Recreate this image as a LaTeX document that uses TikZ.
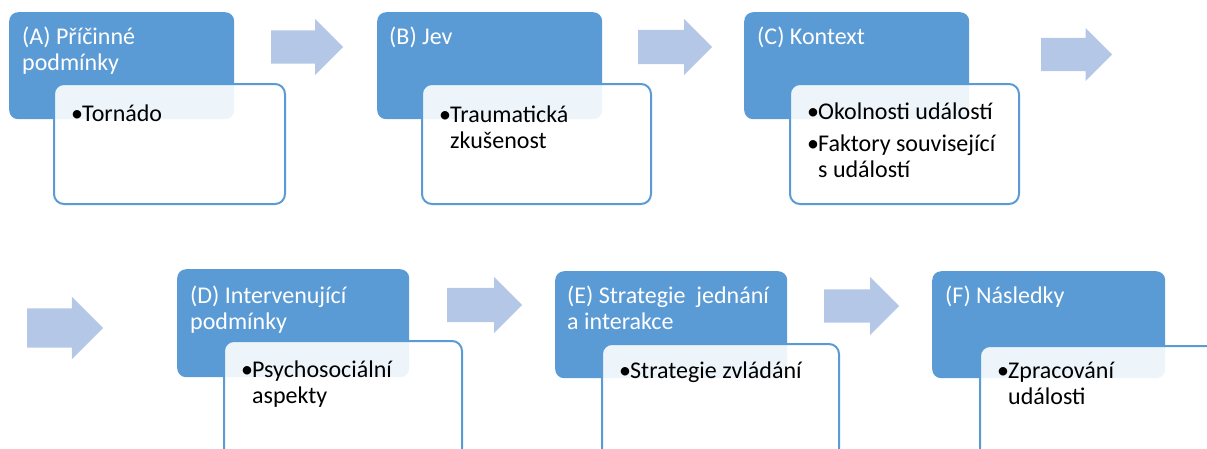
\documentclass[tikz,border=0pt]{standalone}
\usepackage{fontspec}
\setmainfont{Carlito}
\usetikzlibrary{shapes.arrows}
\definecolor{boxblue}{HTML}{5B9BD5}
\definecolor{arrowblue}{HTML}{B4C7E7}
\newcommand{\bul}{\makebox[11pt][l]{•}}
\begin{document}
\begin{tikzpicture}[x=1pt,y=-1pt,
	catbox/.style={fill=boxblue,rounded corners=9pt,inner sep=0pt,anchor=north west},
	detbox/.style={draw=boxblue,line width=2pt,fill=white,fill opacity=0.9,rounded corners=10pt,inner sep=0pt,anchor=north west},
	cattext/.style={text=white,align=left,anchor=base west,inner sep=0pt,font=\fontsize{24}{26.5}\selectfont},
	dettext/.style={text=black,align=left,anchor=base west,inner sep=0pt,font=\fontsize{24}{26}\selectfont},
	flowarrow/.style={single arrow,fill=arrowblue,draw=none,inner xsep=0pt,anchor=tail}]
		\useasboundingbox (0,0) rectangle (1207,448);
		\clip (0,0) rectangle (1207,448);
		\node[catbox,minimum width=225pt,minimum height=107pt] (catA) at (9,12) {};
		\node[detbox,minimum width=231pt,minimum height=120pt] (detA) at (53,83) {};
		\node[catbox,minimum width=225pt,minimum height=107pt] (catB) at (377,12) {};
		\node[detbox,minimum width=229pt,minimum height=120pt] (detB) at (421,83) {};
		\node[catbox,minimum width=225pt,minimum height=107pt] (catC) at (744,12) {};
		\node[detbox,minimum width=229pt,minimum height=120pt] (detC) at (789,83) {};
		\node[catbox,minimum width=232pt,minimum height=108pt] (catD) at (177,269) {};
		\node[detbox,minimum width=238pt,minimum height=120pt] (detD) at (223,340) {};
		\node[catbox,minimum width=232pt,minimum height=107pt] (catE) at (555,271) {};
		\node[detbox,minimum width=237pt,minimum height=120pt] (detE) at (601,343) {};
		\node[catbox,minimum width=233pt,minimum height=107pt] (catF) at (932,271) {};
		\node[detbox,minimum width=238pt,minimum height=120pt] (detF) at (979,345) {};
		\node[flowarrow,minimum height=72pt,inner ysep=16.5pt,single arrow head extend=11.5pt] (arrAB) at (271,47) {};
		\node[flowarrow,minimum height=74pt,inner ysep=17pt,single arrow head extend=11pt] (arrBC) at (638,47) {};
		\node[flowarrow,minimum height=71pt,inner ysep=16.5pt,single arrow head extend=10pt] (arrCD) at (1041,54.5) {};
		\node[flowarrow,minimum height=76pt,inner ysep=19.5pt,single arrow head extend=11.5pt] (arrDin) at (27,328) {};
		\node[flowarrow,minimum height=75pt,inner ysep=17pt,single arrow head extend=11pt] (arrDE) at (447,305) {};
		\node[flowarrow,minimum height=75pt,inner ysep=16.5pt,single arrow head extend=12.5pt] (arrEF) at (824,306) {};
		\node[cattext] (labA) at (22,70.5) {(A) Příčinné\\podmínky};
		\node[cattext] (labB) at (389,44) {(B) Jev};
		\node[cattext] (labC) at (757,44) {(C) Kontext};
		\node[cattext] (labD) at (190,329.5) {(D) Intervenující\\podmínky};
		\node[cattext] (labE) at (567,329.5) {(E) Strategie\ \ jednání\\a interakce};
		\node[cattext] (labF) at (945,303) {(F) Následky};
		\node[dettext] (itmA) at (71,121) {\bul Tornádo};
		\node[dettext] (itmB) at (439,148) {\bul Traumatická\\\hspace*{11pt}zkušenost};
		\node[dettext] (itmC) at (807,177) {\bul Okolnosti událostí\\[6pt]\bul Faktory související\\\hspace*{11pt}s událostí};
		\node[dettext] (itmD) at (241,403) {\bul Psychosociální\\\hspace*{11pt}aspekty};
		\node[dettext] (itmE) at (619,378) {\bul Strategie zvládání};
		\node[dettext] (itmF) at (997,404) {\bul Zpracování\\\hspace*{11pt}události};
\end{tikzpicture}
\end{document}
